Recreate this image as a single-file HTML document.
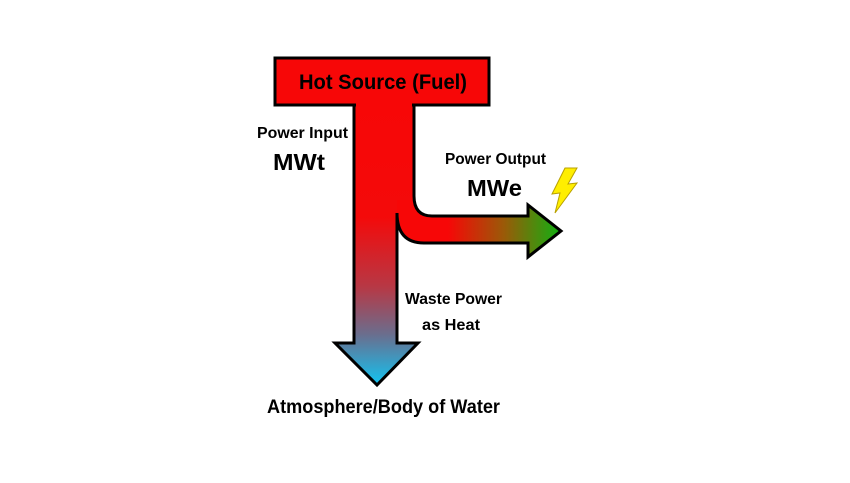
<!DOCTYPE html>
<html><head><style>body{margin:0;background:#fff}svg{display:block}</style></head><body>
<svg width="850" height="483" viewBox="0 0 850 483" xmlns="http://www.w3.org/2000/svg" font-family="Liberation Sans, sans-serif" font-weight="bold">
<defs>
<linearGradient id="gv" x1="0" y1="105" x2="0" y2="385" gradientUnits="userSpaceOnUse">
<stop offset="0" stop-color="#f70707"/><stop offset="0.4" stop-color="#f40a0a"/><stop offset="0.65" stop-color="#b73845"/><stop offset="0.82" stop-color="#6a6e8e"/><stop offset="1" stop-color="#12c4f2"/></linearGradient>
<linearGradient id="gh" x1="400" y1="0" x2="560" y2="0" gradientUnits="userSpaceOnUse">
<stop offset="0" stop-color="#f70707"/><stop offset="0.3" stop-color="#f70707"/><stop offset="0.65" stop-color="#9a5a08"/><stop offset="1" stop-color="#12b012"/></linearGradient>
<path id="u" d="M354 100 L354 343 L335 343 L377 385 L418 343 L397 343 L397 213 Q397 243 424 243 L528 243 L528 257 L561 231 L528 205 L528 216 L432 216 Q414 216 414 196 L414 100"/>
<clipPath id="cu"><use href="#u"/></clipPath>
</defs>
<use href="#u" fill="url(#gv)"/>
<rect x="397" y="200" width="170" height="60" fill="url(#gh)" clip-path="url(#cu)"/>
<use href="#u" fill="none" stroke="#000" stroke-width="3"/>
<rect x="275" y="58" width="214" height="47" fill="#f70707" stroke="#000" stroke-width="3"/>
<rect x="356" y="103" width="56" height="6" fill="#f70707"/>
<path d="M565 168 L552 194 L560 193 L555 213 L577 183 L568 184 L577 168 Z" fill="#ffee00" stroke="#b8a000" stroke-width="1"/>
<text x="299" y="89" font-size="21" textLength="168" lengthAdjust="spacingAndGlyphs">Hot Source (Fuel)</text>
<text x="257" y="138" font-size="16" textLength="91" lengthAdjust="spacingAndGlyphs">Power Input</text>
<text x="273" y="170" font-size="23" textLength="52" lengthAdjust="spacingAndGlyphs">MWt</text>
<text x="445" y="164" font-size="16" textLength="101" lengthAdjust="spacingAndGlyphs">Power Output</text>
<text x="467" y="196" font-size="23" textLength="55" lengthAdjust="spacingAndGlyphs">MWe</text>
<text x="405" y="304" font-size="16" textLength="97" lengthAdjust="spacingAndGlyphs">Waste Power</text>
<text x="422" y="330" font-size="16" textLength="58" lengthAdjust="spacingAndGlyphs">as Heat</text>
<text x="267" y="413" font-size="19" textLength="233" lengthAdjust="spacingAndGlyphs">Atmosphere/Body of Water</text>
</svg>
</body></html>
